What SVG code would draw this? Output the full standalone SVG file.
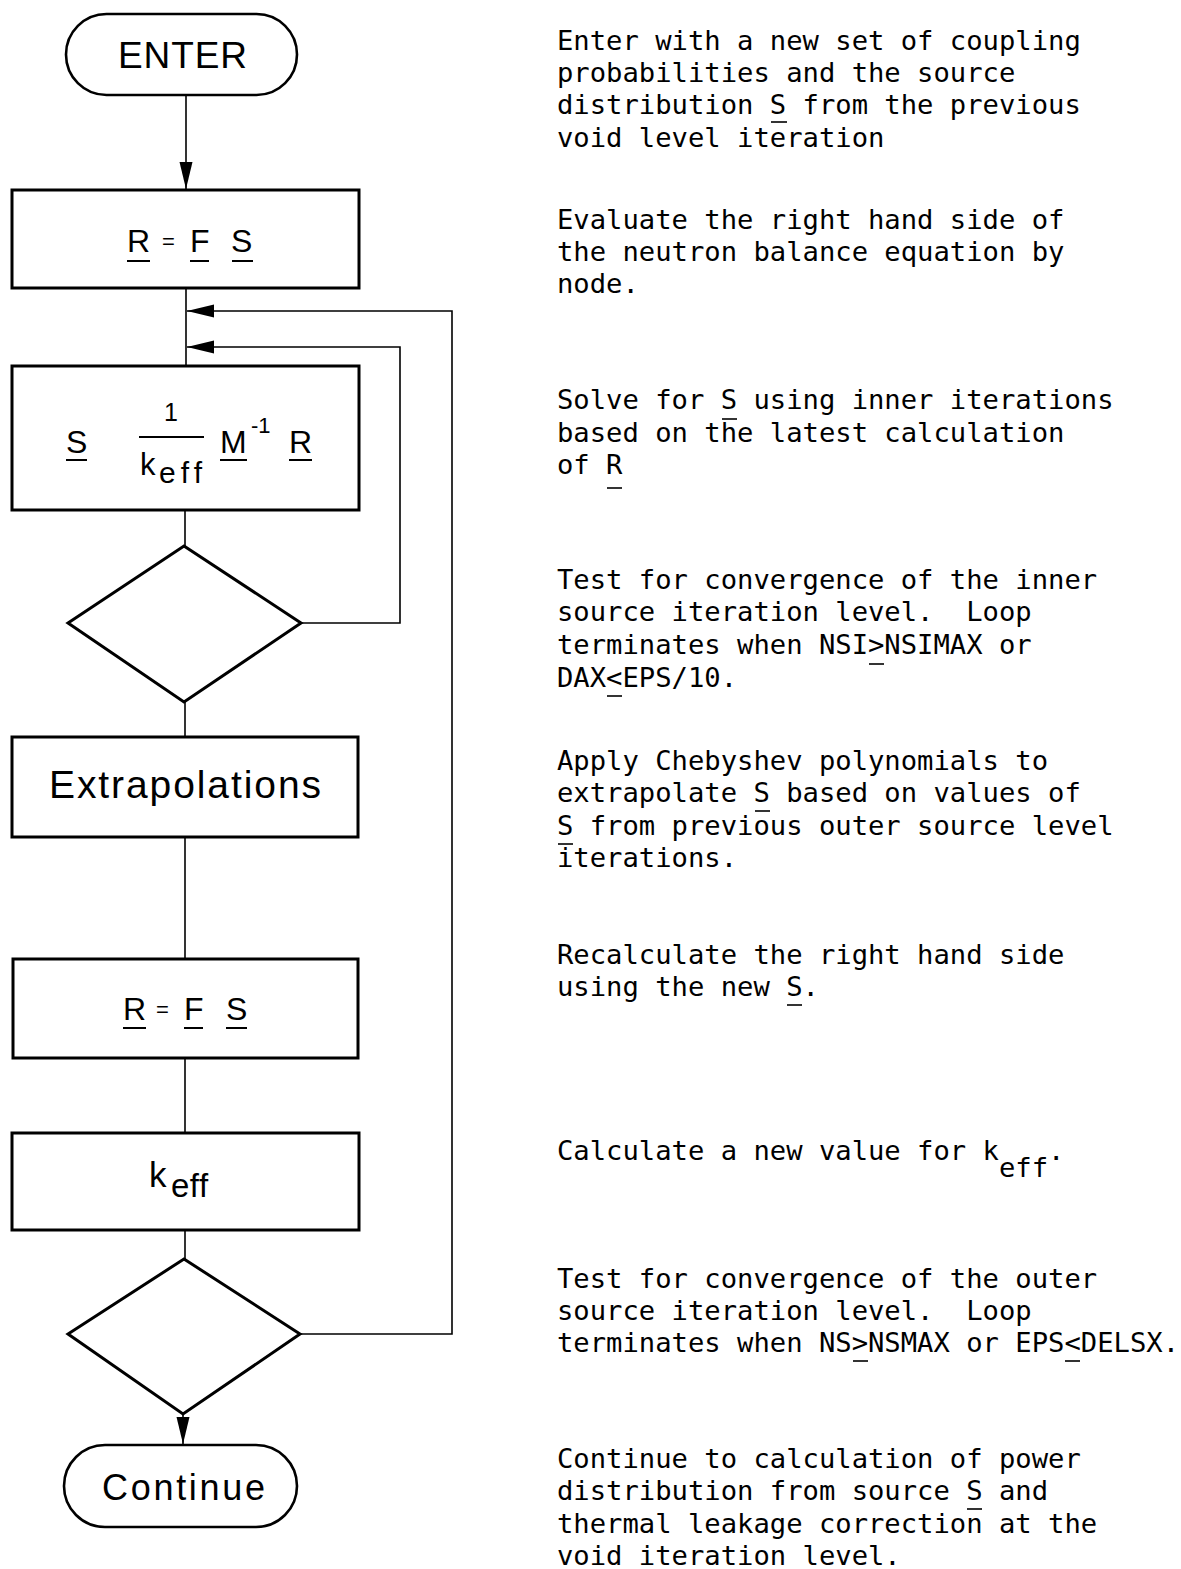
<svg xmlns="http://www.w3.org/2000/svg" width="1181" height="1569" viewBox="0 0 1181 1569">
<style>
.box{fill:#fff;stroke:#000;stroke-width:3}
.term{fill:#fff;stroke:#000;stroke-width:2.6}
.conn{fill:none;stroke:#000;stroke-width:1.6}
.ul{stroke:#000;stroke-width:1.6}
.uls{stroke:#000;stroke-width:2}
.lab{font-family:"Liberation Sans",Arial,sans-serif;fill:#000}
.mono{font-family:"DejaVu Sans Mono","Liberation Mono",monospace;font-size:27.2px;fill:#000;white-space:pre}
</style>
<defs>
<marker id="ah" markerUnits="userSpaceOnUse" markerWidth="28" markerHeight="14" refX="27" refY="6.5" orient="auto">
<path d="M0,0 L27,6.5 L0,13 Z" fill="#000"/>
</marker>
</defs>
<rect width="1181" height="1569" fill="#fff"/>

<g id="connectors">
<line class="conn" x1="186" y1="95" x2="186" y2="189" marker-end="url(#ah)"/>
<line class="conn" x1="186" y1="288" x2="186" y2="366"/>
<polyline class="conn" points="300,1334 452,1334 452,311 187,311" marker-end="url(#ah)"/>
<polyline class="conn" points="301,623 400,623 400,347 187,347" marker-end="url(#ah)"/>
<line class="conn" x1="185" y1="510" x2="185" y2="546"/>
<line class="conn" x1="185" y1="702" x2="185" y2="737"/>
<line class="conn" x1="185" y1="837" x2="185" y2="959"/>
<line class="conn" x1="185" y1="1058" x2="185" y2="1133"/>
<line class="conn" x1="185" y1="1230" x2="185" y2="1259"/>
<line class="conn" x1="183" y1="1414" x2="183" y2="1444" marker-end="url(#ah)"/>
</g>

<g id="enter">
<rect class="term" x="66" y="14" width="231" height="81" rx="40.5"/>
<text class="lab" x="118" y="68" font-size="37" textLength="129" lengthAdjust="spacing">ENTER</text>
</g>

<g id="rfs1">
<rect class="box" x="12" y="190" width="347" height="98"/>
<text class="lab" font-size="32" y="252"><tspan x="127">R</tspan></text>
<text class="lab" font-size="22" x="162" y="249">=</text>
<text class="lab" font-size="32" y="252"><tspan x="190">F</tspan><tspan x="231">S</tspan></text>
<line class="uls" x1="127" y1="261" x2="150" y2="261"/>
<line class="uls" x1="190" y1="261" x2="209" y2="261"/>
<line class="uls" x1="232" y1="261" x2="253" y2="261"/>
</g>

<g id="solve">
<rect class="box" x="12" y="366" width="347" height="144"/>
<text class="lab" font-size="32" x="66" y="453">S</text>
<line class="uls" x1="66" y1="460" x2="87" y2="460"/>
<text class="lab" font-size="25" x="171" y="421" text-anchor="middle">1</text>
<line class="uls" x1="139" y1="437" x2="204" y2="437"/>
<text class="lab" font-size="31" x="140" y="475">k</text>
<text class="lab" font-size="30" x="159" y="483" textLength="43" lengthAdjust="spacing">eff</text>
<text class="lab" font-size="32" x="220" y="453">M</text>
<text class="lab" font-size="22" x="251" y="433">-1</text>
<text class="lab" font-size="32" x="289" y="453">R</text>
<line class="uls" x1="220" y1="460" x2="247" y2="460"/>
<line class="uls" x1="289" y1="460" x2="312" y2="460"/>
</g>

<g id="test-inner">
<polygon class="box" points="184,546 301,623 184,702 68,623"/>
</g>

<g id="extrap">
<rect class="box" x="12" y="737" width="346" height="100"/>
<text class="lab" x="49" y="798" font-size="39" textLength="272" lengthAdjust="spacing">Extrapolations</text>
</g>

<g id="rfs2">
<rect class="box" x="13" y="959" width="345" height="99"/>
<text class="lab" font-size="32" y="1020"><tspan x="123">R</tspan></text>
<text class="lab" font-size="22" x="156" y="1017">=</text>
<text class="lab" font-size="32" y="1020"><tspan x="184">F</tspan><tspan x="226">S</tspan></text>
<line class="uls" x1="123" y1="1028" x2="146" y2="1028"/>
<line class="uls" x1="184" y1="1028" x2="203" y2="1028"/>
<line class="uls" x1="226" y1="1028" x2="247" y2="1028"/>
</g>

<g id="keff">
<rect class="box" x="12" y="1133" width="347" height="97"/>
<text class="lab" font-size="35" x="149" y="1187">k</text>
<text class="lab" font-size="33" x="171" y="1197" letter-spacing="0.5">eff</text>
</g>

<g id="test-outer">
<polygon class="box" points="184,1259 300,1334 183,1414 68,1334"/>
</g>

<g id="continue">
<rect class="term" x="64" y="1445" width="233" height="82" rx="41"/>
<text class="lab" x="102" y="1500" font-size="36" textLength="163" lengthAdjust="spacing">Continue</text>
</g>

<g id="notes">
<text class="mono" x="557" y="50">Enter with a new set of coupling</text>
<text class="mono" x="557" y="82">probabilities and the source</text>
<text class="mono" x="557" y="114">distribution S from the previous</text>
<text class="mono" x="557" y="147">void level iteration</text>
<line class="ul" x1="771" y1="122" x2="787" y2="122"/>

<text class="mono" x="557" y="229">Evaluate the right hand side of</text>
<text class="mono" x="557" y="261">the neutron balance equation by</text>
<text class="mono" x="557" y="293">node.</text>

<text class="mono" x="557" y="409">Solve for S using inner iterations</text>
<text class="mono" x="557" y="442">based on the latest calculation</text>
<text class="mono" x="557" y="474">of R</text>
<line class="ul" x1="722" y1="419" x2="737" y2="419"/>
<line class="ul" x1="607" y1="488" x2="622" y2="488"/>

<text class="mono" x="557" y="589">Test for convergence of the inner</text>
<text class="mono" x="557" y="621" xml:space="preserve">source iteration level.  Loop</text>
<text class="mono" x="557" y="654">terminates when NSI&gt;NSIMAX or</text>
<text class="mono" x="557" y="687">DAX&lt;EPS/10.</text>
<line class="ul" x1="869" y1="664" x2="884" y2="664"/>
<line class="ul" x1="607" y1="696" x2="622" y2="696"/>

<text class="mono" x="557" y="770">Apply Chebyshev polynomials to</text>
<text class="mono" x="557" y="802">extrapolate S based on values of</text>
<text class="mono" x="557" y="835">S from previous outer source level</text>
<text class="mono" x="557" y="867">iterations.</text>
<line class="ul" x1="755" y1="811" x2="770" y2="811"/>
<line class="ul" x1="558" y1="844" x2="573" y2="844"/>

<text class="mono" x="557" y="964">Recalculate the right hand side</text>
<text class="mono" x="557" y="996">using the new S.</text>
<line class="ul" x1="787" y1="1005" x2="802" y2="1005"/>

<text class="mono" x="557" y="1160">Calculate a new value for k<tspan dy="17">eff</tspan><tspan dy="-17">.</tspan></text>

<text class="mono" x="557" y="1288">Test for convergence of the outer</text>
<text class="mono" x="557" y="1320" xml:space="preserve">source iteration level.  Loop</text>
<text class="mono" x="557" y="1352">terminates when NS&gt;NSMAX or EPS&lt;DELSX.</text>
<line class="ul" x1="853" y1="1361" x2="868" y2="1361"/>
<line class="ul" x1="1065" y1="1361" x2="1080" y2="1361"/>

<text class="mono" x="557" y="1468">Continue to calculation of power</text>
<text class="mono" x="557" y="1500">distribution from source S and</text>
<text class="mono" x="557" y="1533">thermal leakage correction at the</text>
<text class="mono" x="557" y="1565">void iteration level.</text>
<line class="ul" x1="967" y1="1509" x2="982" y2="1509"/>
</g>
</svg>
